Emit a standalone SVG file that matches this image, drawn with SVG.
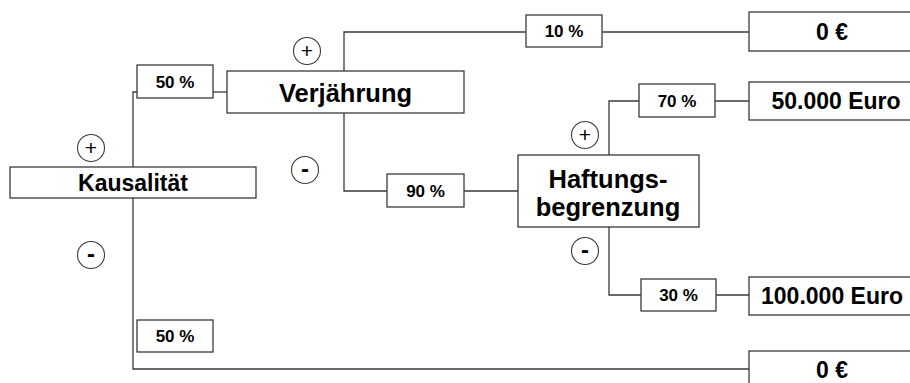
<svg xmlns="http://www.w3.org/2000/svg" width="910" height="383" viewBox="0 0 910 383">
<style>
.box{fill:#fff;stroke:#3a3a3a;stroke-width:1.3}
.con{fill:none;stroke:#3a3a3a;stroke-width:1.3}
.circ{fill:#fff;stroke:#3a3a3a;stroke-width:1.1}
.t{font-family:"Liberation Sans",Arial,sans-serif;font-weight:bold;fill:#000;text-anchor:middle}
.node{font-size:23px}
.big{font-size:25.5px}
.pct{font-size:17px}
.plus{font-family:"Liberation Sans",Arial,sans-serif;font-size:21px;fill:#000;text-anchor:middle}
.minus{font-family:"Liberation Sans",Arial,sans-serif;font-weight:bold;font-size:24px;fill:#000;text-anchor:middle}
</style>
<rect width="910" height="383" fill="#fff"/>
<g id="connectors">
<path class="con" d="M137,92 H133 V369 H749"/>
<path class="con" d="M213,92 H227"/>
<path class="con" d="M526,32 H344 V191 H387"/>
<path class="con" d="M602,32 H749"/>
<path class="con" d="M464,191 H518"/>
<path class="con" d="M639,101 H609 V295 H641"/>
<path class="con" d="M715,101 H749"/>
<path class="con" d="M716,295 H749"/>
</g>
<g id="kausalitaet">
<rect class="box" x="10" y="167" width="246" height="31"/>
<text class="t node" x="133" y="191">Kausalität</text>
</g>
<g id="verjaehrung">
<rect class="box" x="227" y="71" width="237" height="42"/>
<text class="t big" x="345.5" y="101.5">Verjährung</text>
</g>
<g id="haftungsbegrenzung">
<rect class="box" x="518" y="155" width="181" height="72"/>
<text class="t big" x="608" y="188">Haftungs-</text>
<text class="t big" x="608" y="216">begrenzung</text>
</g>
<g id="p50a">
<rect class="box" x="137" y="65" width="76" height="33"/>
<text class="t pct" x="175" y="87.6">50 %</text>
</g>
<g id="p50b">
<rect class="box" x="137" y="320" width="76" height="32"/>
<text class="t pct" x="175" y="342">50 %</text>
</g>
<g id="p10">
<rect class="box" x="526" y="15" width="76" height="32"/>
<text class="t pct" x="564" y="37">10 %</text>
</g>
<g id="p90">
<rect class="box" x="387" y="174" width="77" height="33"/>
<text class="t pct" x="425.5" y="196.6">90 %</text>
</g>
<g id="p70">
<rect class="box" x="639" y="84" width="76" height="33"/>
<text class="t pct" x="677" y="106.6">70 %</text>
</g>
<g id="p30">
<rect class="box" x="641" y="279" width="75" height="32"/>
<text class="t pct" x="678.5" y="301">30 %</text>
</g>
<g id="r0top">
<rect class="box" x="749" y="12" width="166" height="39"/>
<text class="t node" x="832" y="39.5">0 €</text>
</g>
<g id="r50000">
<rect class="box" x="749" y="82" width="166" height="38"/>
<text class="t node" x="836" y="109">50.000 Euro</text>
</g>
<g id="r100000">
<rect class="box" x="749" y="277" width="166" height="38"/>
<text class="t node" x="832" y="304">100.000 Euro</text>
</g>
<g id="r0bottom">
<rect class="box" x="749" y="351" width="166" height="39"/>
<text class="t node" x="832" y="378">0 €</text>
</g>
<g id="signs">
<circle class="circ" cx="91" cy="148" r="13.5"/>
<text class="plus" x="91" y="155.3">+</text>
<circle class="circ" cx="91" cy="255" r="13.5"/>
<text class="minus" x="91" y="261.5">-</text>
<circle class="circ" cx="307" cy="51" r="13.5"/>
<text class="plus" x="307" y="58.3">+</text>
<circle class="circ" cx="305" cy="170" r="13.5"/>
<text class="minus" x="305" y="176.5">-</text>
<circle class="circ" cx="585" cy="135" r="13.5"/>
<text class="plus" x="585" y="142.3">+</text>
<circle class="circ" cx="585" cy="251" r="13.5"/>
<text class="minus" x="585" y="257.5">-</text>
</g>
</svg>
